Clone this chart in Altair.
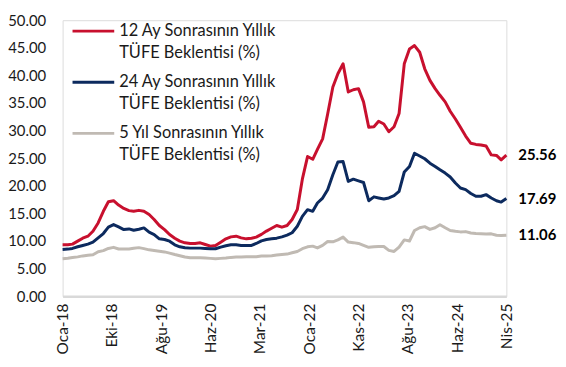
import altair as alt
import pandas as pd

# ---------------- data ----------------
months = pd.date_range("2018-01-01", "2025-04-01", freq="MS").strftime("%Y-%m-%d").tolist()

series_names = [
    "12 Ay Sonrasının Yıllık TÜFE Beklentisi (%)",
    "24 Ay Sonrasının Yıllık TÜFE Beklentisi (%)",
    "5 Yıl Sonrasının Yıllık TÜFE Beklentisi (%)",
]
legend_lines = [
    ["12 Ay Sonrasının Yıllık", "TÜFE Beklentisi (%)"],
    ["24 Ay Sonrasının Yıllık", "TÜFE Beklentisi (%)"],
    ["5 Yıl Sonrasının Yıllık", "TÜFE Beklentisi (%)"],
]
colors = ["#c8102e", "#0c2a5e", "#c0bab3"]

exp_12m = [
    9.31, 9.31, 9.43, 9.97, 10.5, 10.87, 11.77, 13.27, 15.38, 17.1, 17.3, 16.5, 15.9,
    15.5, 15.4, 15.55, 15.4, 14.8, 13.9, 12.8, 12.07, 11.17, 10.5, 9.97, 9.67, 9.55,
    9.55, 9.67, 9.37, 9.07, 9.19, 9.79, 10.39, 10.75, 10.87, 10.57, 10.39, 10.51,
    10.7, 11.2, 11.8, 12.3, 12.8, 12.5, 12.8, 13.9,
    15.7, 21.2, 25.3, 24.8, 26.6, 28.5, 33.0, 37.9, 40.3, 42.1, 37.0, 37.4, 37.6, 35.2,
    30.6, 30.7, 31.7, 31.2, 29.8, 30.7, 33.1, 42.1,
    44.8, 45.4, 44.2, 41.2, 39.1, 37.6, 36.4, 35.2, 33.5, 32.1, 30.6, 29.0, 27.7, 27.5,
    27.4, 27.2, 25.6, 25.5, 24.7, 25.56,
]
exp_24m = [
    8.47, 8.53, 8.65, 8.95, 9.19, 9.43, 9.79, 10.57, 11.35, 12.5, 12.97, 12.55, 12.07,
    12.19, 11.95, 12.13, 12.37, 11.59, 11.17, 10.39, 10.27, 9.97, 9.31, 8.95, 8.77, 8.71,
    8.71, 8.71, 8.65, 8.59, 8.59, 8.89, 9.13, 9.31, 9.31, 9.19, 9.19, 9.19, 9.55, 10.03,
    10.27, 10.39, 10.51, 10.75, 11.05, 11.5,
    12.67, 14.47, 15.68, 15.37, 16.88, 17.78, 19.28, 22.0, 24.3, 24.4, 20.8, 21.2, 20.9,
    20.6, 17.3, 18.0, 17.8, 17.6, 17.8, 18.2, 19.0, 22.5,
    23.5, 25.9, 25.4, 24.9, 24.1, 23.5, 22.9, 22.3, 21.6, 20.5, 19.6, 19.3, 18.6, 18.1,
    18.1, 18.4, 17.8, 17.3, 17.05, 17.69,
]
exp_5y = [
    6.8, 6.88, 7.0, 7.12, 7.3, 7.42, 7.5, 8.05, 8.25, 8.65, 8.85, 8.55, 8.55, 8.55,
    8.68, 8.8, 8.62, 8.4, 8.27, 8.15, 8.02, 7.8, 7.55, 7.33, 7.09, 6.97,
    6.97, 6.97, 6.91, 6.85, 6.79, 6.85, 6.91, 7.03, 7.09, 7.09, 7.15, 7.15, 7.15, 7.27,
    7.27, 7.33, 7.45, 7.57, 7.63, 7.87,
    8.1, 8.6, 8.95, 9.07, 8.75, 9.2, 9.9, 9.85, 10.2, 10.7, 9.8, 9.7, 9.55, 9.2, 8.85,
    8.95, 9.0, 9.0, 8.3, 8.1, 8.9, 10.2,
    10.0, 11.9, 12.4, 12.6, 12.1, 12.4, 12.95, 12.4, 11.9, 11.75, 11.65, 11.7, 11.45,
    11.35, 11.3, 11.25, 11.3, 11.05, 11.0, 11.06,
]

tick_dates = ["2018-01-01", "2018-10-22", "2019-08-12", "2020-06-01", "2021-03-22",
              "2022-01-10", "2022-11-01", "2023-08-22", "2024-06-11", "2025-04-01"]
y_ticks = [0, 5, 10, 15, 20, 25, 30, 35, 40, 45, 50]

# ---------------- tables ----------------
rows = []
for name, vals in zip(series_names, [exp_12m, exp_24m, exp_5y]):
    for d, v in zip(months, vals):
        rows.append({"date": d, "series": name, "value": v})
df = pd.DataFrame(rows)
last = df[df["date"] == months[-1]].copy()
last["label"] = last["value"].map(lambda v: f"{v:.2f}")


def dt(s):
    y, m, d = (int(p) for p in s.split("-"))
    return alt.DateTime(year=y, month=m, date=d, utc=True)


FONT = "Lato"
TXT = "#1a1a1a"
W, H = 447, 278

xscale = alt.Scale(type="utc", domain=[dt(months[0]), dt(months[-1])])
yscale = alt.Scale(domain=[0, 50], nice=False)
cscale = alt.Scale(domain=series_names, range=colors)

month_names = "['Oca','Şub','Mar','Nis','May','Haz','Tem','Ağu','Eyl','Eki','Kas','Ara']"

x_axis = alt.Axis(
    values=[dt(s) for s in tick_dates],
    labelExpr=month_names + "[utcmonth(datum.value)] + '-' + utcFormat(datum.value, '%y')",
    labelAngle=-90,
    labelAlign="right",
    labelBaseline="middle",
    labelPadding=7,
    labelFont=FONT,
    labelFontSize=15.5,
    labelColor=TXT,
    ticks=False,
    grid=False,
    domain=True,
    domainColor="#d9d9d9",
    domainWidth=2.5,
    labelOverlap=False,
    labelBound=False,
    labelFlush=False,
)
y_axis = alt.Axis(
    values=y_ticks,
    format=".2f",
    grid=False,
    domain=False,
    ticks=False,
    labelPadding=17,
    labelFont=FONT,
    labelFontSize=15,
    labelColor=TXT,
    labelOverlap=False,
    labelBound=False,
    labelFlush=False,
)

x_enc = alt.X("date:T", scale=xscale, title=None, axis=x_axis)
y_enc = alt.Y("value:Q", scale=yscale, title=None, axis=y_axis)

lines = alt.Chart(df).mark_line(strokeWidth=3, strokeJoin="round").encode(
    x=x_enc,
    y=y_enc,
    color=alt.Color("series:N", scale=cscale, legend=None),
    order=alt.Order("date:T"),
)

end_labels = alt.Chart(last).mark_text(
    align="left", baseline="middle", dx=12, font=FONT, fontSize=15, fontWeight="bold", color="#000000"
).encode(
    x=x_enc,
    y=y_enc,
    text="label:N",
)

layers = [lines, end_labels]
row_gap = 51.5
for k, (name, col, ll) in enumerate(zip(series_names, colors, legend_lines)):
    y0 = 11 + k * row_gap
    sw = alt.Chart(pd.DataFrame({"s": [name]})).mark_rule(strokeWidth=3, color=col).encode(
        x=alt.value(10), x2=alt.value(52), y=alt.value(y0)
    )
    t1 = alt.Chart(pd.DataFrame({"t": [ll[0]]})).mark_text(
        align="left", baseline="middle", font=FONT, fontSize=16.5, color=TXT
    ).encode(x=alt.value(57), y=alt.value(y0), text="t:N")
    t2 = alt.Chart(pd.DataFrame({"t": [ll[1]]})).mark_text(
        align="left", baseline="middle", font=FONT, fontSize=16.5, color=TXT
    ).encode(x=alt.value(57), y=alt.value(y0 + 22), text="t:N")
    layers += [sw, t1, t2]

chart = alt.layer(*layers).properties(
    width=W,
    height=H,
    autosize=alt.AutoSizeParams(type="none"),
    padding={"left": 55, "top": 11, "right": 52, "bottom": 66},
).configure_view(stroke=None).configure(background="white")

chart.save("out.html", embed_options={"renderer": "svg", "actions": False})
